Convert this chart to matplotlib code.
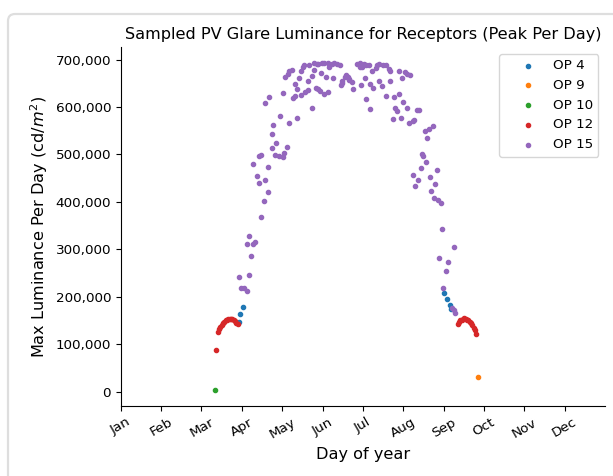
import numpy as np
import matplotlib
matplotlib.use("Agg")
import matplotlib.pyplot as plt
from matplotlib.ticker import FuncFormatter
from matplotlib.patches import FancyBboxPatch

# ---- data (day of year, peak luminance cd/m^2) ----
op4_days = [89, 90, 92, 244, 246, 248, 249]
op4_vals = [147000, 164000, 179000, 207000, 196000, 183000, 174000]

op9_days = [269]
op9_vals = [30000]

op10_days = [71]
op10_vals = [4000]

op12_days = [72, 73, 74, 75, 76, 77, 78, 79, 80, 81, 82, 83, 84, 85, 86, 87, 88,
             254, 255, 256, 257, 258, 259, 260, 261, 262, 263, 264, 265, 266, 267, 268]
op12_vals = [88000, 126000, 131000, 136000, 140000, 144000, 147000, 150000, 152000,
             153000, 154000, 154000, 153000, 151000, 148000, 145000, 143000,
             143000, 147000, 150000, 152000, 154000, 155000, 154000, 152000, 150000,
             147000, 144000, 140000, 135000, 129000, 122000]

op15_days = [89, 91, 93, 95, 97, 98, 95, 100, 101, 97, 106, 108, 111, 104, 109, 103,
             100, 111, 104, 106, 116, 119, 122, 123, 117, 114, 125, 114, 115, 120,
             127, 133, 109, 112, 122, 130, 131, 124, 126, 127, 129, 131, 133, 134,
             136, 137, 138, 136, 139, 141, 141, 144, 144, 142, 146, 148, 149, 146,
             147, 149, 150, 151, 152, 153, 156, 155, 153, 156, 159, 161, 163, 165,
             157, 160, 166, 167, 169, 170, 171, 172, 174, 167, 172, 175, 178, 180,
             183, 185, 187, 180, 182, 181, 184, 185, 188, 188, 190, 189, 192, 193,
             195, 198, 200, 195, 197, 200, 202, 203, 203, 205, 206, 210, 207, 208,
             211, 210, 214, 216, 218, 212, 213, 216, 217, 220, 221, 223, 225, 229,
             232, 235, 231, 227, 228, 230, 226, 238, 233, 220, 224, 222, 237, 234,
             236, 239, 241, 242, 251, 240, 247, 245, 243, 250, 251, 252]
op15_vals = [242000, 219000, 219000, 212000, 246000, 285000, 311000, 312000, 316000,
             328000, 369000, 402000, 421000, 439000, 446000, 454000, 480000, 473000,
             496000, 499000, 499000, 497000, 494000, 504000, 525000, 513000, 515000,
             544000, 562000, 581000, 566000, 576000, 608000, 622000, 629000, 620000,
             624000, 663000, 669000, 676000, 679000, 649000, 638000, 662000, 677000,
             685000, 689000, 625000, 631000, 635000, 655000, 599000, 666000, 689000,
             692000, 691000, 691000, 678000, 641000, 638000, 634000, 671000, 692000,
             627000, 631000, 663000, 692000, 692000, 691000, 692000, 691000, 689000,
             684000, 661000, 647000, 656000, 663000, 668000, 664000, 658000, 652000,
             650000, 660000, 638000, 691000, 692000, 691000, 689000, 689000, 684000,
             684000, 647000, 661000, 617000, 595000, 648000, 641000, 677000, 682000,
             689000, 691000, 689000, 688000, 655000, 644000, 624000, 680000, 677000,
             656000, 575000, 622000, 627000, 598000, 592000, 577000, 677000, 673000,
             670000, 667000, 661000, 610000, 597000, 567000, 571000, 573000, 594000,
             593000, 550000, 554000, 561000, 535000, 501000, 497000, 485000, 471000,
             467000, 452000, 456000, 446000, 433000, 437000, 423000, 408000, 403000,
             398000, 342000, 304000, 281000, 273000, 254000, 218000, 176000, 172000,
             165000]

series_labels = ["OP 4", "OP 9", "OP 10", "OP 12", "OP 15"]
series_colors = ["#1f77b4", "#ff7f0e", "#2ca02c", "#d62728", "#9467bd"]
month_labels = ["Jan", "Feb", "Mar", "Apr", "May", "Jun",
                "Jul", "Aug", "Sep", "Oct", "Nov", "Dec"]

fig = plt.figure(figsize=(6.13, 4.76), dpi=100)
ax = fig.add_axes([0.197, 0.147, 0.790, 0.754])

series = [(op4_days, op4_vals), (op9_days, op9_vals), (op10_days, op10_vals),
          (op12_days, op12_vals), (op15_days, op15_vals)]
for (d, v), lab, col in zip(series, series_labels, series_colors):
    ax.scatter(d, v, s=36, marker='.', color=col, label=lab)

ax.set_xlim(0, 365)
ax.set_xticks(np.arange(12) * 365 / 12)
ax.set_xticklabels(month_labels, rotation=30)
ax.set_yticks(np.arange(0, 700001, 100000))
ax.yaxis.set_major_formatter(FuncFormatter(lambda v, p: f"{v:,.0f}"))
ax.tick_params(labelsize=9.7)
for s in ["top", "right"]:
    ax.spines[s].set_visible(False)

ax.set_title("Sampled PV Glare Luminance for Receptors (Peak Per Day)", fontsize=11.6)
ax.set_xlabel("Day of year", fontsize=11.6)
ax.set_ylabel("Max Luminance Per Day (cd/$m^2$)", fontsize=11.6)
ax.legend(loc="upper right", fontsize=9.7, handlelength=3.4, handletextpad=0.15)

frame = FancyBboxPatch((0.08, -0.5), 7.0, 5.12,
                       boxstyle="round,pad=0,rounding_size=0.07",
                       transform=fig.dpi_scale_trans, facecolor="none",
                       edgecolor="#dedede", linewidth=1.6, clip_on=False)
fig.patches.append(frame)

fig.savefig("out.png", dpi=100)
